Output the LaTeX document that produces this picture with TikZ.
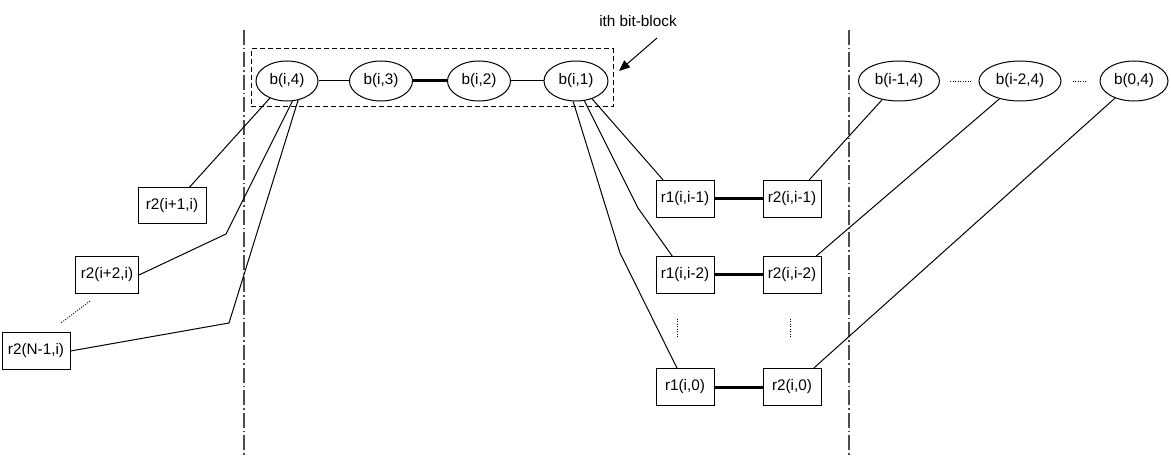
\documentclass[tikz,border=0pt]{standalone}
\usepackage{fontspec}
\setmainfont{Liberation Sans}
\usetikzlibrary{shapes.geometric,calc,arrows.meta}
\begin{document}
\begin{tikzpicture}[x=1pt,y=-1pt,
  every node/.style={font=\fontsize{15.3}{17}\selectfont},
  bnode/.style={draw,ellipse,line width=1pt,inner sep=0pt,minimum height=40pt},
  rbox/.style={draw,rectangle,line width=1pt,inner sep=0pt,minimum height=37pt},
  thin/.style={line width=1pt},
  thick/.style={line width=3pt},
  sep/.style={line width=1.3pt,gray!60!black,dash pattern=on 15pt off 3pt on 1.5pt off 3pt},
  dots/.style={line width=0.9pt,dash pattern=on 1pt off 1.5pt}]
\useasboundingbox (0,0) rectangle (1171,457);
% separators
\coordinate (s1t) at (244,30); \coordinate (s1b) at (244,457);
\coordinate (s2t) at (849,30); \coordinate (s2b) at (849,457);
\draw[sep] (s1t) -- (s1b);
\draw[sep] (s2t) -- (s2b);
% bit-block
\node[draw,line width=1pt,dash pattern=on 5pt off 3pt,minimum width=362pt,minimum height=58pt,inner sep=0pt] (blk) at (432,78) {};
\node[bnode,minimum width=62pt] (b4) at (287,81) {b(i,4)};
\node[bnode,minimum width=63pt] (b3) at (381,81) {b(i,3)};
\node[bnode,minimum width=63pt] (b2) at (479,81) {b(i,2)};
\node[bnode,minimum width=64pt] (b1) at (576,81) {b(i,1)};
\draw[thin] (b4) -- (b3);
\draw[thick] (b3) -- (b2);
\draw[thin] (b2) -- (b1);
\node (lbl) at (638,21) {ith bit-block};
\coordinate (arrs) at (657,38);
\draw[thin,-{Triangle[length=11pt,width=9pt]}] (arrs) -- (619,71);
% right ellipses
\node[bnode,minimum width=81pt] (c1) at (899,81) {b(i-1,4)};
\node[bnode,minimum width=82pt] (c2) at (1020,81) {b(i-2,4)};
\node[bnode,minimum width=68pt] (c3) at (1134,81) {b(0,4)};
\draw[dots,shorten <=10pt,shorten >=7pt] (c1.east) -- (c2.west);
\draw[dots,shorten <=11pt,shorten >=12pt] (c2.east) -- (c3.west);
% left boxes
\node[rbox,minimum width=68pt,minimum height=36pt] (la) at (172,206) {r2(i+1,i)};
\node[rbox,minimum width=63pt] (lb) at (107,275) {r2(i+2,i)};
\node[rbox,minimum width=68pt] (lc) at (36,351) {r2(N-1,i)};
\draw[dots] ($(lb.south)+(-17,7)$) -- ($(lc.north)+(25,-9)$);
\draw[thin] (b4.225) -- (la.47);
\draw[thin] (b4.285) -- (226,234) -- (lb.east);
\draw[thin] (b4.300) -- (229,323) -- (lc.east);
% right boxes
\node[rbox,minimum width=58pt] (r1a) at (685,199) {r1(i,i-1)};
\node[rbox,minimum width=58pt] (r1b) at (685,275) {r1(i,i-2)};
\node[rbox,minimum width=58pt] (r1c) at (685,387) {r1(i,0)};
\node[rbox,minimum width=58pt] (r2a) at (792,199) {r2(i,i-1)};
\node[rbox,minimum width=58pt] (r2b) at (792,275) {r2(i,i-2)};
\node[rbox,minimum width=58pt] (r2c) at (792,387) {r2(i,0)};
\draw[thick] (r1a) -- (r2a);
\draw[thick] (r1b) -- (r2b);
\draw[thick] (r1c) -- (r2c);
\draw[dots,shorten <=25pt,shorten >=31pt] ($(r1b.south)+(-8,0)$) -- ($(r1c.north)+(-8,0)$);
\draw[dots,shorten <=25pt,shorten >=31pt] ($(r2b.south)+(-2,0)$) -- ($(r2c.north)+(-2,0)$);
\draw[thin] (b1.312) -- (r1a.139);
\draw[thin] (b1.293) -- (638,208) -- (r1b.124);
\draw[thin] (b1.262) -- (620,253) -- (r1c.113);
\draw[thin] (c1.228) -- (r2a.48);
\draw[thin] (c2.221) -- (r2b.38);
\draw[thin] (c3.222) -- (r2c.41);
\end{tikzpicture}
\end{document}
